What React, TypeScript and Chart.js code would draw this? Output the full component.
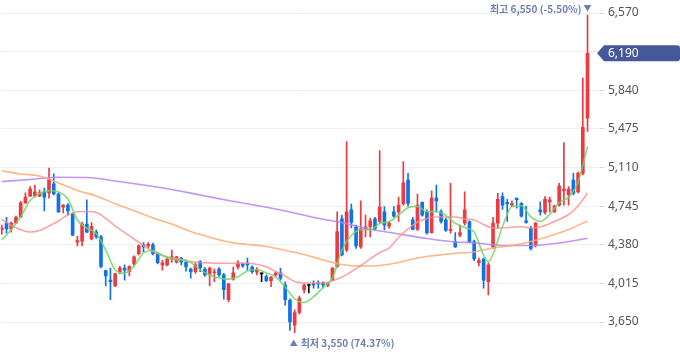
import React, { useEffect, useRef } from 'react';
import { Chart, registerables } from 'chart.js';

Chart.register(...registerables);

// Daily candles (oldest -> newest)
const opens = [4520,4585,4530,4585,4640,4775,4840,4840,4840,4880,4870,4955,4860,4735,4755,4670,4405,4415,4575,4435,4500,4455,4135,4045,3990,4125,4160,4125,4200,4295,4380,4370,4380,4295,4190,4190,4245,4215,4255,4215,4150,4125,4220,4150,4095,4115,4150,4095,3860,4055,4170,4200,4210,4170,4120,4105,4080,4040,4095,4115,4000,3855,3620,3740,3955,3995,4015,4020,4020,3995,4045,4175,4625,4330,4710,4550,4360,4525,4550,4625,4600,4690,4555,4690,4690,4765,4990,4615,4525,4780,4690,4495,4820,4690,4615,4515,4410,4470,4585,4600,4410,4210,4245,4030,4360,4585,4835,4780,4755,4820,4770,4605,4535,4370,4710,4685,4785,4690,4755,4890,4850,4990,4880,5055,5575];
const highs = [4565,4640,4595,4650,4790,4870,4930,4945,4900,4915,5105,5050,4870,4760,4770,4680,4460,4595,4805,4590,4520,4470,4140,4160,4110,4175,4190,4180,4275,4380,4400,4400,4395,4300,4235,4260,4330,4270,4260,4235,4160,4210,4230,4165,4170,4150,4165,4110,4015,4170,4230,4210,4255,4180,4165,4115,4095,4080,4125,4160,4030,3870,3765,3895,4010,4010,4040,4040,4030,4020,4165,4690,4660,5355,4765,4565,4795,4660,4630,4640,5270,4740,4600,4740,4830,5165,5055,4640,4860,4785,4710,4890,4945,4710,4630,4960,4495,4565,4880,4605,4425,4255,4255,4210,4640,4865,4870,4810,4795,4820,4780,4745,4555,4590,4785,4835,4830,4755,4960,5345,4930,5055,5070,5955,6550];
const lows = [4480,4490,4500,4580,4635,4770,4835,4830,4835,4700,4820,4850,4685,4680,4660,4465,4370,4370,4495,4425,4440,4160,3990,3860,3985,4105,4045,4085,4180,4285,4315,4345,4285,4200,4140,4180,4215,4205,4190,4130,4065,4110,4125,4080,3990,4030,4080,3865,3840,4045,4150,4165,4140,4110,4095,4030,4030,3985,4080,4045,3810,3570,3550,3725,3925,3925,3970,3970,3970,3985,4040,4165,4275,4315,4540,4345,4345,4455,4455,4520,4585,4520,4535,4640,4600,4755,4745,4520,4515,4650,4480,4490,4690,4585,4505,4490,4355,4455,4565,4400,4230,4180,3970,3905,4345,4535,4715,4600,4740,4725,4640,4585,4330,4360,4660,4670,4690,4685,4745,4755,4755,4850,4870,5040,5450];
const closes = [4540,4530,4585,4640,4775,4830,4905,4880,4870,4830,5000,4860,4690,4755,4700,4470,4420,4575,4500,4555,4455,4175,4085,4030,4105,4160,4140,4175,4265,4370,4360,4385,4295,4210,4210,4245,4265,4265,4215,4170,4125,4190,4160,4095,4160,4125,4095,3955,4010,4115,4210,4180,4190,4125,4140,4105,4040,4075,4115,4065,3860,3650,3740,3875,4000,3995,4000,4010,4000,4015,4160,4505,4285,4690,4590,4370,4530,4550,4605,4530,4735,4565,4585,4650,4755,4965,4770,4525,4755,4660,4495,4820,4795,4600,4515,4525,4360,4495,4710,4410,4245,4230,4045,4190,4585,4810,4755,4765,4770,4805,4650,4590,4345,4585,4690,4810,4805,4745,4935,4905,4905,4865,5055,5490,6190];

// Moving averages (candle index, price)
const ma5Idx = [0,2,4,6,8,10,12,14,16,18,20,22,24,26,28,30,32,34,36,38,40,42,44,46,48,50,52,54,56,58,60,62,64,66,68,70,72,74,76,78,80,82,84,86,88,90,92,94,96,98,100,102,103,104,106,108,110,112,114,116,118,120,122,124];
const ma5 = [4425,4524,4645,4798,4864,4890,4879,4812,4614,4538,4486,4330,4144,4110,4179,4302,4326,4279,4244,4236,4212,4143,4096,4066,4055,4077,4132,4146,4114,4075,3981,3872,3834,3889,3974,4066,4330,4468,4523,4520,4581,4598,4661,4729,4743,4692,4694,4657,4583,4543,4501,4283,4220,4293,4552,4742,4749,4643,4601,4666,4777,4828,4973,5307];
const ma20Idx = [0,2,4,6,8,10,12,14,16,18,20,22,24,26,28,30,32,34,36,38,40,44,48,52,56,58,60,62,64,68,72,76,80,82,84,86,88,90,92,94,96,98,100,102,104,106,108,110,112,114,116,118,120,122,124];
const ma20 = [4619,4565,4522,4501,4515,4557,4605,4661,4692,4694,4685,4630,4557,4495,4434,4373,4316,4280,4255,4241,4222,4208,4205,4205,4170,4127,4085,4033,4019,4019,4075,4184,4307,4349,4449,4529,4595,4628,4642,4642,4642,4623,4614,4571,4538,4540,4545,4550,4538,4548,4581,4619,4666,4746,4869];
const ma60Idx = [0,4,8,12,16,20,24,28,32,36,40,44,48,52,56,60,64,68,72,76,80,84,88,92,96,100,104,108,112,116,120,124];
const ma60 = [5079,5049,5030,4964,4893,4841,4767,4702,4633,4576,4505,4451,4406,4383,4364,4326,4288,4236,4194,4179,4184,4212,4255,4280,4300,4312,4349,4373,4411,4463,4524,4605];
const ma120Idx = [0,6,12,18,24,30,36,42,48,54,60,66,72,78,84,90,96,100,106,112,118,124];
const ma120 = [4977,4997,5018,5016,4983,4945,4902,4850,4798,4751,4699,4638,4589,4526,4482,4439,4406,4399,4373,4373,4397,4441];

const yTicks = [3650, 4015, 4380, 4745, 5110, 5475, 5840, 6205, 6570];
const hiddenTick = 6205;
const lastPrice = 6190;
const highLabel = '최고 6,550 (-5.50%)';
const lowLabel = '최저 3,550 (74.37%)';

const RED = '#ec3a40';
const BLUE = '#0f72e5';
const DOJI = '#111111';
const ANNOT = '#6b7fb2';
const BADGE = '#45599a';
const TICK_FONT = "'Noto Sans', 'Noto Sans CJK KR', sans-serif";
const KR_FONT = "'Noto Sans CJK KR', 'Noto Sans', sans-serif";

export default function App() {
  const ref = useRef<HTMLCanvasElement>(null);

  useEffect(() => {
    const canvas = ref.current;
    if (!canvas) return;
    const n = closes.length;
    const idx = closes.map((_, i) => i);
    const colors = idx.map((i) => (closes[i] > opens[i] ? RED : closes[i] < opens[i] ? BLUE : DOJI));
    const pts = (xs: number[], vs: number[]) => xs.map((x, k) => ({ x, y: vs[k] }));

    const annot = {
      id: 'annot',
      afterDraw(chart: any) {
        const { ctx, chartArea } = chart;
        const xs = chart.scales.x;
        const ys = chart.scales.y;
        ctx.save();
        // last price badge
        const by = ys.getPixelForValue(lastPrice);
        const tip = chartArea.right - 3;
        const h = 16;
        const r = 3;
        const right = chart.width;
        ctx.fillStyle = BADGE;
        ctx.beginPath();
        ctx.moveTo(tip, by);
        ctx.lineTo(tip + 7, by - h / 2);
        ctx.lineTo(right - r, by - h / 2);
        ctx.quadraticCurveTo(right, by - h / 2, right, by - h / 2 + r);
        ctx.lineTo(right, by + h / 2 - r);
        ctx.quadraticCurveTo(right, by + h / 2, right - r, by + h / 2);
        ctx.lineTo(tip + 7, by + h / 2);
        ctx.closePath();
        ctx.fill();
        ctx.fillStyle = '#ffffff';
        ctx.font = `12px ${TICK_FONT}`;
        ctx.textAlign = 'left';
        ctx.textBaseline = 'middle';
        ctx.fillText(lastPrice.toLocaleString('en-US'), chartArea.right + 8, by + 0.5);

        // high / low markers
        let hi = 0;
        let lo = 0;
        for (let i = 0; i < n; i++) {
          if (highs[i] > highs[hi]) hi = i;
          if (lows[i] < lows[lo]) lo = i;
        }
        const hx = xs.getPixelForValue(hi);
        const hy = ys.getPixelForValue(highs[hi]);
        ctx.fillStyle = ANNOT;
        ctx.font = `bold 10px ${KR_FONT}`;
        ctx.textAlign = 'right';
        ctx.fillText(highLabel, hx - 6, hy - 6);
        ctx.font = `8px ${KR_FONT}`;
        ctx.textAlign = 'center';
        ctx.fillText('▼', hx, hy - 7);

        const lx = xs.getPixelForValue(lo);
        const ly = ys.getPixelForValue(lows[lo]);
        ctx.font = `8px ${KR_FONT}`;
        ctx.textAlign = 'center';
        ctx.fillText('▲', lx - 1, ly + 10);
        ctx.font = `bold 10px ${KR_FONT}`;
        ctx.textAlign = 'left';
        ctx.fillText(lowLabel, lx + 6, ly + 10.5);
        ctx.restore();
      },
    };

    const lineDs = (label: string, data: any[], color: string) => ({
      type: 'line' as const,
      label,
      data,
      borderColor: color,
      borderWidth: 1.6,
      pointRadius: 0,
      cubicInterpolationMode: 'monotone' as const,
      order: 0,
    });

    const chart = new Chart(canvas, {
      type: 'bar',
      data: {
        datasets: [
          lineDs('MA5', pts(ma5Idx, ma5), 'rgba(110,214,104,0.85)'),
          lineDs('MA20', pts(ma20Idx, ma20), 'rgba(255,140,140,0.8)'),
          lineDs('MA60', pts(ma60Idx, ma60), 'rgba(255,170,110,0.85)'),
          lineDs('MA120', pts(ma120Idx, ma120), 'rgba(185,130,245,0.85)'),
          {
            type: 'bar',
            label: 'body',
            data: idx.map((i) => ({ x: i, y: [opens[i], closes[i]] })) as any,
            backgroundColor: colors,
            barThickness: 3,
            minBarLength: 1,
            grouped: false,
            order: 1,
          } as any,
          {
            type: 'bar',
            label: 'wick',
            data: idx.map((i) => ({ x: i, y: [lows[i], highs[i]] })) as any,
            backgroundColor: colors,
            barThickness: 1,
            grouped: false,
            order: 2,
          } as any,
        ],
      },
      options: {
        responsive: false,
        animation: false,
        layout: { padding: 0 },
        plugins: { legend: { display: false }, tooltip: { enabled: false } },
        scales: {
          x: {
            type: 'linear',
            display: false,
            offset: false,
            min: -0.21,
            max: 126.64,
          },
          y: {
            type: 'linear',
            position: 'right',
            min: 3415,
            max: 6590,
            border: { display: false },
            grid: { color: '#efefef', tickColor: '#d4d4d4', tickLength: 4, lineWidth: 1 },
            ticks: {
              padding: 4,
              color: '#555555',
              font: { family: TICK_FONT, size: 12 },
              callback: (v: any) => (Number(v) === hiddenTick ? '' : Number(v).toLocaleString('en-US')),
            },
            afterBuildTicks: (s: any) => {
              s.ticks = yTicks.map((v) => ({ value: v }));
            },
            afterFit: (s: any) => {
              s.width = 80;
            },
          },
        },
      } as any,
      plugins: [annot],
    });

    // calibrate the value range so the tick rows sit where the reference has them
    const ys: any = chart.scales.y;
    const topRow = 13;
    const bottomRow = 322;
    const per = (bottomRow - topRow) / (yTicks[yTicks.length - 1] - yTicks[0]);
    (chart.options.scales as any).y.min = yTicks[0] - (ys.bottom - bottomRow) / per;
    (chart.options.scales as any).y.max = yTicks[yTicks.length - 1] + (topRow - ys.top) / per;
    chart.update();

    return () => chart.destroy();
  }, []);

  return (
    <div style={{ position: 'absolute', left: 0, top: 0, width: 680, height: 358, background: '#fff' }}>
      <canvas ref={ref} width={680} height={358} style={{ display: 'block' }} />
    </div>
  );
}
